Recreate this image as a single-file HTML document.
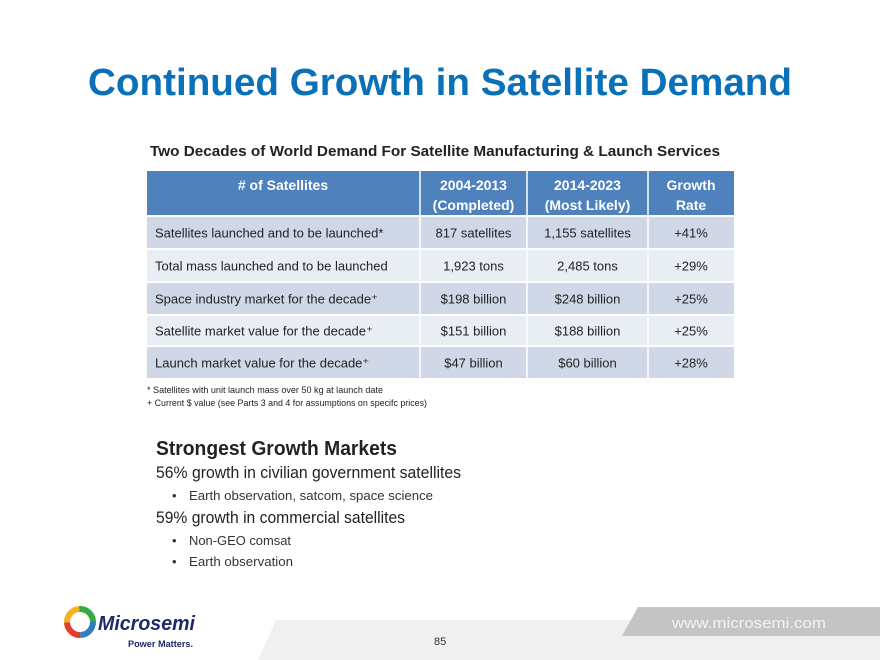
<!DOCTYPE html>
<html><head><meta charset="utf-8"><style>
html,body{margin:0;padding:0;background:#fff;}
svg{display:block;font-family:"Liberation Sans",sans-serif;}
</style></head><body>
<svg width="880" height="660" viewBox="0 0 880 660">
<text x="88" y="95" font-size="38" font-weight="bold" fill="#0a70b8" textLength="704" lengthAdjust="spacingAndGlyphs">Continued Growth in Satellite Demand</text>
<text x="150" y="156" font-size="15" font-weight="bold" fill="#222" textLength="570" lengthAdjust="spacingAndGlyphs">Two Decades of World Demand For Satellite Manufacturing &amp; Launch Services</text>
<g id="tbl"></g>
<text x="147" y="393" font-size="9" fill="#222" textLength="236" lengthAdjust="spacingAndGlyphs">* Satellites with unit launch mass over 50 kg at launch date</text>
<text x="147" y="406" font-size="9" fill="#222" textLength="280" lengthAdjust="spacingAndGlyphs">+ Current $ value (see Parts 3 and 4 for assumptions on specifc prices)</text>
<text x="156" y="455" font-size="20" font-weight="bold" fill="#222" textLength="241" lengthAdjust="spacingAndGlyphs">Strongest Growth Markets</text>
<text x="156" y="478" font-size="17" fill="#222" textLength="305" lengthAdjust="spacingAndGlyphs">56% growth in civilian government satellites</text>
<text x="172" y="500" font-size="13" fill="#333">•</text>
<text x="189" y="500" font-size="13" fill="#333" textLength="244" lengthAdjust="spacingAndGlyphs">Earth observation,  satcom, space science</text>
<text x="156" y="523" font-size="17" fill="#222" textLength="249" lengthAdjust="spacingAndGlyphs">59% growth in commercial satellites</text>
<text x="172" y="545" font-size="13" fill="#333">•</text>
<text x="189" y="545" font-size="13" fill="#333" textLength="102" lengthAdjust="spacingAndGlyphs">Non-GEO comsat</text>
<text x="172" y="566" font-size="13" fill="#333">•</text>
<text x="189" y="566" font-size="13" fill="#333" textLength="104" lengthAdjust="spacingAndGlyphs">Earth observation</text>
<polygon points="276,620 880,620 880,660 258,660" fill="#f0f0f0"/>
<polygon points="638,607 880,607 880,636 622,636" fill="#c4c4c4"/>
<text x="672" y="628" font-size="15" fill="#f4f4f4" textLength="154" lengthAdjust="spacingAndGlyphs">www.microsemi.com</text>
<text x="434" y="645" font-size="11" fill="#333">85</text>
<g>
<circle cx="80" cy="622" r="13" fill="none" stroke="#2e7fc0" stroke-width="6" stroke-dasharray="20 62"/>
<circle cx="80" cy="622" r="13" fill="none" stroke="#e53a2e" stroke-width="6" stroke-dasharray="0 20 20 42"/>
<circle cx="80" cy="622" r="13" fill="none" stroke="#f5b324" stroke-width="6" stroke-dasharray="0 40 20 22"/>
<circle cx="80" cy="622" r="13" fill="none" stroke="#3aa845" stroke-width="6" stroke-dasharray="0 60 22 0"/>
<text x="98" y="630" font-size="20" font-weight="bold" font-style="italic" fill="#1d2a6a" textLength="97" lengthAdjust="spacingAndGlyphs">Microsemi</text>
<text x="128" y="647" font-size="9" font-weight="bold" fill="#1d2a6a" textLength="65" lengthAdjust="spacingAndGlyphs">Power Matters.</text>
</g>
</svg>
<script>
const rowLabels=["Satellites launched and to be launched*","Total mass launched and to be launched","Space industry market  for the decade\u207A","Satellite market  value for the decade\u207A","Launch market  value for the decade\u207A"];
const col2004=["817 satellites","1,923 tons","$198 billion","$151 billion","$47 billion"];
const col2014=["1,155 satellites","2,485 tons","$248 billion","$188 billion","$60 billion"];
const growth=["+41%","+29%","+25%","+25%","+28%"];
const NS="http://www.w3.org/2000/svg";
const g=document.getElementById('tbl');
const cols=[147,420,527,648,734];
const rowY=[216,249,282,315,346,379];
function mk(tag,attrs,txt){const e=document.createElementNS(NS,tag);for(const k in attrs)e.setAttribute(k,attrs[k]);if(txt!==undefined)e.textContent=txt;g.appendChild(e);return e;}
let h=mk('rect',{x:147,y:171,width:587,height:45,fill:'#4f81bd'});


const hdr=[["# of Satellites",""],["2004-2013","(Completed)"],["2014-2023","(Most Likely)"],["Growth","Rate"]];
for(let c=0;c<4;c++){
  const cx=c===0?283:(cols[c]+cols[c+1])/2;
  const t1=mk('text',{x:cx,y:190,'font-size':14,'font-weight':'bold',fill:'#fff','text-anchor':'middle'},hdr[c][0]);
  
  
  if(hdr[c][1]){const t2=mk('text',{x:cx,y:210,'font-size':14,'font-weight':'bold',fill:'#fff','text-anchor':'middle'},hdr[c][1]);
  
  }
}
for(let r=0;r<rowLabels.length;r++){
  const y0=rowY[r],y1=rowY[r+1];
  const bg=mk('rect',{x:147,y:y0,width:587,height:y1-y0,fill:r%2===0?'#d0d8e8':'#e9edf4'});
  
  
  const by=(y0+y1)/2+5;
  const vals=[rowLabels[r],col2004[r],col2014[r],growth[r]];
  for(let c=0;c<4;c++){
    const t=c===0?mk('text',{x:155,y:by,'font-size':13,fill:'#222'},vals[c]):mk('text',{x:(cols[c]+cols[c+1])/2,y:by,'font-size':13,fill:'#222','text-anchor':'middle'},vals[c]);
    
    
  }
}
for(let r=0;r<rowY.length;r++){mk('line',{x1:147,x2:734,y1:rowY[r],y2:rowY[r],stroke:'#fff','stroke-width':2});}
for(let c=1;c<4;c++){mk('line',{x1:cols[c],x2:cols[c],y1:171,y2:379,stroke:'#fff','stroke-width':1.5});}
</script>
</body></html>
